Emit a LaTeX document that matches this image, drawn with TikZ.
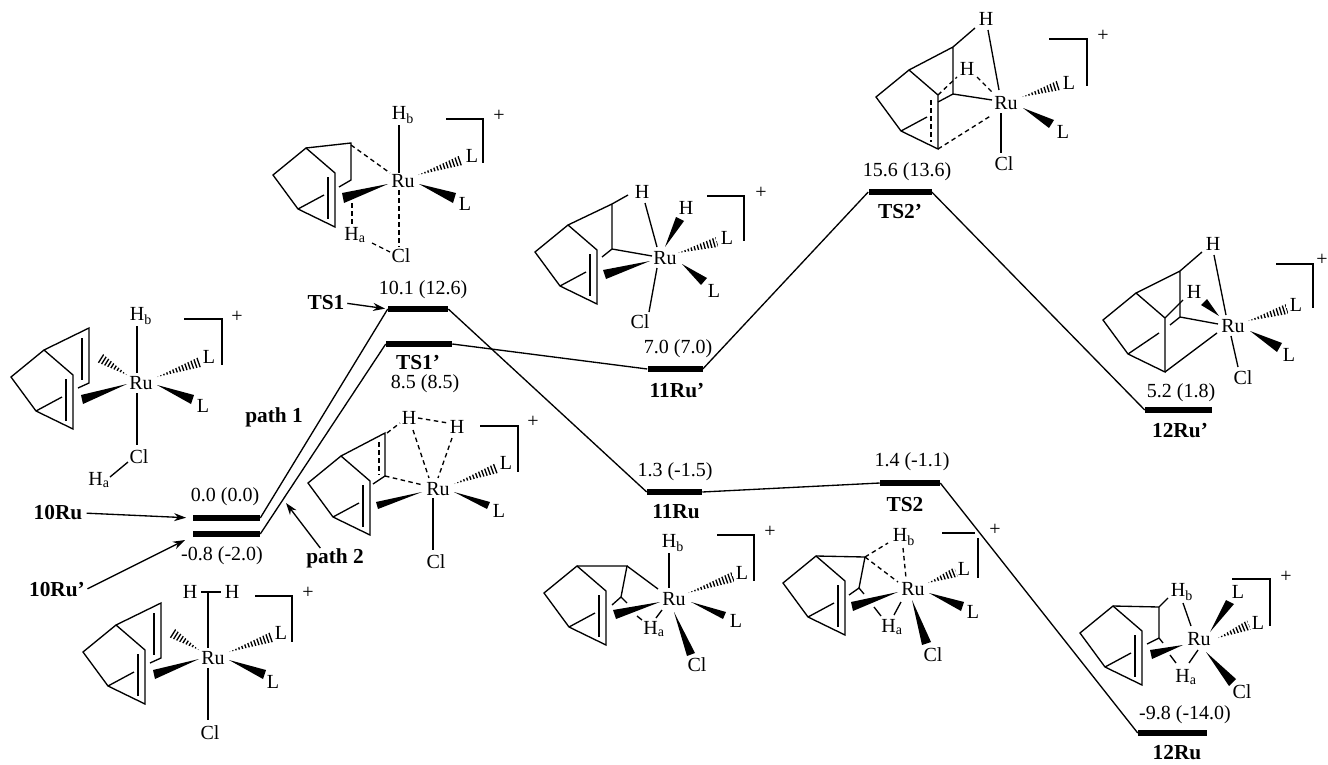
\documentclass[tikz,border=0pt]{standalone}
\usepackage{fontspec}
\setmainfont{Liberation Serif}
\usetikzlibrary{calc,arrows.meta}
\newcommand{\wedgebond}[3]{\fill #1 -- #2 -- #3 -- cycle;}
\newcommand{\hashbond}[2]{%
  \begin{scope}
    \clip #1 -- ($#2!3.8pt!90:#1$) -- ($#2!3.8pt!-90:#1$) -- cycle;
    \draw[hashstroke] #1 -- #2;
  \end{scope}}
\newcommand{\nbdcage}[1][(-79,14)]{%
  \draw[bond,line join=miter] (-97,-33) -- (-130,-6) -- (-105,28) -- (-68,46) -- (-68,-8) -- cycle;
  \draw[bond] (-105,28) -- #1;}
\newcommand{\nbdinner}{\draw[bond] (-75,-4) -- (-75,38);}
\newcommand{\rubracket}[3]{\draw[bond,line join=miter] #1 -- #2 -- #3;}
\begin{document}
\begin{tikzpicture}[x=0.75pt,y=-0.75pt,
  bond/.style={line width=1pt},
  dbond/.style={line width=1pt,dash pattern=on 3.4pt off 2.6pt},
  hashstroke/.style={line width=9pt,dash pattern=on 1pt off 1.5pt},
  atom/.style={inner sep=0pt,font=\fontsize{15}{17}\selectfont},
  val/.style={inner sep=0pt,font=\fontsize{15}{17}\selectfont},
  lab/.style={inner sep=0pt,font=\fontsize{16}{18}\selectfont\bfseries},
  level/.style={fill=black,inner sep=0pt,minimum height=5pt,minimum width=#1*0.75pt},
  path/.style={line width=1pt},
  point/.style={line width=1pt,-{Stealth[length=9pt,width=6pt]}}]
  \useasboundingbox (0,0) rectangle (1328,764);

  \node[level=67] (lv10) at (226.5,518) {};
  \node[level=67] (lv10p) at (226.5,534) {};
  \node[level=60] (lvTSa) at (418,309) {};
  \node[level=66] (lvTSap) at (419,344) {};
  \node[level=55] (lv11p) at (675,369) {};
  \node[level=55] (lv11) at (674.5,492) {};
  \node[level=60] (lvTSb) at (910,483) {};
  \node[level=63] (lvTSbp) at (900,192) {};
  \node[level=67] (lv12p) at (1178.5,410) {};
  \node[level=69] (lv12) at (1172.5,733) {};

  \node[val] (v10) at (225,497) {0.0 (0.0)};
  \node[val] (v10p) at (222,556) {-0.8 (-2.0)};
  \node[val] (vTSa) at (423,290) {10.1 (12.6)};
  \node[val] (vTSap) at (425,384) {8.5 (8.5)};
  \node[val] (v11p) at (678,349) {7.0 (7.0)};
  \node[val] (v11) at (675,472) {1.3 (-1.5)};
  \node[val] (vTSb) at (912,462) {1.4 (-1.1)};
  \node[val] (vTSbp) at (907,172) {15.6 (13.6)};
  \node[val] (v12p) at (1181,393) {5.2 (1.8)};
  \node[val] (v12) at (1185,715) {-9.8 (-14.0)};

  \node[lab] (lb10) at (58,513) {10Ru};
  \node[lab] (lb10p) at (57,590) {10Ru'};
  \node[lab] (lbTSa) at (326,303) {TS1};
  \node[lab] (lbTSap) at (418,363) {TS1'};
  \node[lab] (lb11p) at (677,391) {11Ru'};
  \node[lab] (lb11) at (676,512) {11Ru};
  \node[lab] (lbTSb) at (905,505) {TS2};
  \node[lab] (lbTSbp) at (900,212) {TS2'};
  \node[lab] (lb12p) at (1180,431) {12Ru'};
  \node[lab] (lb12) at (1177,753) {12Ru};
  \node[lab] (patha) at (274,417) {path 1};
  \node[lab] (pathb) at (335,558) {path 2};

  \draw[path] (lv10.east) -- (lvTSa.west);
  \draw[path] (lv10p.east) -- (lvTSap.west);
  \draw[path] (lvTSa.east) -- (lv11.west);
  \draw[path] (lvTSap.east) -- (lv11p.west);
  \draw[path] (lv11p.east) -- (lvTSbp.west);
  \draw[path] (lvTSbp.east) -- (lv12p.west);
  \draw[path] (lv11.east) -- (lvTSb.west);
  \draw[path] (lvTSb.east) -- (lv12.west);

  \coordinate (tip10p) at (185,540);
  \coordinate (tipb) at (286,503);
  \draw[point,shorten <=3pt,shorten >=5pt] (lb10.east) -- (lv10.west);
  \draw[point,shorten <=2pt] (lb10p.east) -- (tip10p);
  \draw[point,shorten <=2pt,shorten >=2pt] (lbTSa.east) -- (lvTSa.west);
  \draw[point] ([xshift=-11pt]pathb.north) -- (tipb);

  \begin{scope}[shift={(141,383)}]
    \nbdcage \nbdinner
    \draw[bond,line join=miter] (-97,-33) -- (-52,-55) -- (-52,0) -- (-63,5);
    \draw[bond] (-59,-45) -- (-59,-3);
    \node[atom] (ruA) at (0,0) {Ru};
    \node[atom] (hbA) at (0,-67) {H\textsubscript{b}};
    \node[atom] (clA) at (-2,74) {Cl};
    \node[atom] (haA) at (-42,97) {H\textsubscript{a}};
    \node[atom] (laA) at (68,-26) {L};
    \node[atom] (lbA) at (62,23) {L};
    \node[atom] (plusA) at (96,-66) {+};
    \draw[bond] (-4,-57) -- (-4,-10);
    \draw[bond] (-4,10) -- (-4,62);
    \draw[bond] (-31,94) -- (-13,79);
    \wedgebond{(-14,1)}{(-60,12)}{(-58,21)}
    \wedgebond{(16,2)}{(53,12)}{(50,21)}
    \hashbond{(16,-6)}{(59,-21)}
    \hashbond{(-14,-8)}{(-41,-25)}
    \rubracket{(43,-64)}{(81,-64)}{(81,-18)}
  \end{scope}

  \begin{scope}[shift={(213,658)}]
    \nbdcage \nbdinner
    \draw[bond,line join=miter] (-97,-33) -- (-52,-55) -- (-52,0) -- (-63,5);
    \draw[bond] (-59,-45) -- (-59,-3);
    \node[atom] (ruB) at (0,0) {Ru};
    \node[atom] (haB) at (-23,-66) {H};
    \node[atom] (hbB) at (19,-66) {H};
    \node[atom] (clB) at (-3,75) {Cl};
    \node[atom] (laB) at (68,-25) {L};
    \node[atom] (lbB) at (60,24) {L};
    \node[atom] (plusB) at (95,-65) {+};
    \draw[bond] (-12,-66) -- (8,-66);
    \draw[bond] (-5,-66) -- (-5,-10);
    \draw[bond] (-5,10) -- (-5,62);
    \wedgebond{(-14,1)}{(-60,12)}{(-58,21)}
    \wedgebond{(16,2)}{(53,12)}{(50,21)}
    \hashbond{(16,-6)}{(59,-21)}
    \hashbond{(-14,-8)}{(-41,-25)}
    \rubracket{(42,-62)}{(79,-62)}{(79,-16)}
  \end{scope}

  \begin{scope}[shift={(403,181)}]
    \nbdcage \nbdinner
    \draw[bond,line join=miter] (-97,-33) -- (-52,-38) -- (-52,-1) -- (-64,6);
    \node[atom] (ruC) at (0,0) {Ru};
    \node[atom] (hbC) at (0,-66) {H\textsubscript{b}};
    \node[atom] (haC) at (-48,54) {H\textsubscript{a}};
    \node[atom] (clC) at (-2,75) {Cl};
    \node[atom] (laC) at (69,-25) {L};
    \node[atom] (lbC) at (62,23) {L};
    \node[atom] (plusC) at (96,-65) {+};
    \draw[bond] (-4,-56) -- (-4,-8);
    \draw[dbond] (-52,-36) -- (-13,-8);
    \draw[dbond] (-51,22) -- (-51,44);
    \draw[dbond] (-4,9) -- (-4,66);
    \draw[dbond] (-31,62) -- (-13,71);
    \wedgebond{(-15,3)}{(-61,12)}{(-59,22)}
    \wedgebond{(16,3)}{(53,12)}{(50,22)}
    \hashbond{(15,-6)}{(59,-21)}
    \rubracket{(43,-62)}{(80,-62)}{(80,-18)}
  \end{scope}

  \begin{scope}[shift={(438,489)}]
    \nbdcage \nbdinner
    \draw[bond,line join=miter] (-97,-33) -- (-53,-56) -- (-53,-13) -- (-65,-5);
    \draw[dbond] (-59,-47) -- (-59,-14);
    \node[atom] (ruD) at (0,0) {Ru};
    \node[atom] (haD) at (-29,-71) {H};
    \node[atom] (hbD) at (19,-62) {H};
    \node[atom] (clD) at (-2,73) {Cl};
    \node[atom] (laD) at (68,-26) {L};
    \node[atom] (lbD) at (61,22) {L};
    \node[atom] (plusD) at (95,-67) {+};
    \draw[dbond] (-53,-13) -- (-15,-4);
    \draw[dbond] (-51,-56) -- (-38,-66);
    \draw[dbond] (-20,-71) -- (10,-66);
    \draw[dbond] (-25,-59) -- (-9,-11);
    \draw[dbond] (14,-51) -- (0,-11);
    \draw[bond] (-5,9) -- (-5,61);
    \wedgebond{(-16,3)}{(-62,13)}{(-60,20)}
    \wedgebond{(16,3)}{(52,13)}{(49,20)}
    \hashbond{(16,-5)}{(59,-21)}
    \rubracket{(42,-63)}{(80,-63)}{(80,-17)}
  \end{scope}

  \begin{scope}[shift={(665,258)}]
    \nbdcage \nbdinner
    \draw[bond,line join=miter] (-97,-33) -- (-53,-54) -- (-53,-9) -- (-63,-1);
    \node[atom] (ruE) at (0,0) {Ru};
    \node[atom] (haE) at (-23,-66) {H};
    \node[atom] (hbE) at (21,-50) {H};
    \node[atom] (clE) at (-25,64) {Cl};
    \node[atom] (laE) at (62,-20) {L};
    \node[atom] (lbE) at (49,33) {L};
    \node[atom] (plusE) at (96,-65) {+};
    \draw[bond] (-53,-9) -- (-13,-2);
    \draw[bond] (-53,-54) -- (-37,-63);
    \draw[bond] (-20,-55) -- (-8,-11);
    \draw[bond] (-8,10) -- (-16,54);
    \wedgebond{(0,-11)}{(11,-41)}{(19,-37)}
    \wedgebond{(-15,3)}{(-62,12)}{(-59,21)}
    \wedgebond{(17,6)}{(42,20)}{(36,27)}
    \hashbond{(13,-5)}{(52,-16)}
    \rubracket{(42,-62)}{(79,-62)}{(79,-17)}
  \end{scope}

  \begin{scope}[shift={(1006,103)}]
    \nbdcage
    \draw[dbond] (-75,-3) -- (-75,39);
    \draw[bond,line join=miter] (-97,-33) -- (-53,-56) -- (-53,-9) -- (-68,-1);
    \node[atom] (ruF) at (0,0) {Ru};
    \node[atom] (haF) at (-20,-84) {H};
    \node[atom] (hbF) at (-39,-34) {H};
    \node[atom] (clF) at (-2,61) {Cl};
    \node[atom] (laF) at (63,-20) {L};
    \node[atom] (lbF) at (57,29) {L};
    \node[atom] (plusF) at (97,-67) {+};
    \draw[bond] (-53,-9) -- (-14,-3);
    \draw[bond] (-53,-56) -- (-31,-75);
    \draw[bond] (-18,-73) -- (-7,-13);
    \draw[dbond] (-68,-8) -- (-49,-26);
    \draw[dbond] (-29,-26) -- (-13,-10);
    \draw[dbond] (-68,46) -- (-14,12);
    \draw[bond] (-5,10) -- (-5,50);
    \wedgebond{(17,5)}{(48,17)}{(43,25)}
    \hashbond{(16,-6)}{(54,-18)}
    \rubracket{(43,-64)}{(81,-64)}{(81,-17)}
  \end{scope}

  \begin{scope}[shift={(1233,326)}]
    \nbdcage[(-74,7)]
    \draw[bond,line join=miter] (-97,-33) -- (-53,-55) -- (-53,-9) -- (-63,-1);
    \node[atom] (ruG) at (0,0) {Ru};
    \node[atom] (haG) at (-20,-82) {H};
    \node[atom] (hbG) at (-39,-34) {H};
    \node[atom] (clG) at (10,52) {Cl};
    \node[atom] (laG) at (63,-21) {L};
    \node[atom] (lbG) at (56,29) {L};
    \node[atom] (plusG) at (89,-66) {+};
    \draw[bond] (-53,-9) -- (-15,-2);
    \draw[bond] (-53,-55) -- (-31,-74);
    \draw[bond] (-19,-71) -- (-7,-11);
    \draw[bond] (-68,-8) -- (-50,-26);
    \draw[bond] (-68,46) -- (-16,7);
    \draw[bond] (-2,10) -- (5,41);
    \wedgebond{(-14,-10)}{(-26,-27)}{(-32,-21)}
    \wedgebond{(17,5)}{(49,17)}{(44,26)}
    \hashbond{(15,-5)}{(54,-17)}
    \rubracket{(43,-62)}{(80,-62)}{(80,-18)}
  \end{scope}

  \begin{scope}[shift={(674,599)}]
    \nbdcage \nbdinner
    \draw[bond,line join=miter] (-97,-33) -- (-47,-33) -- (-53,-2) -- (-62,6);
    \draw[bond] (-53,-2) -- (-47,4);
    \node[atom] (ruH) at (0,0) {Ru};
    \node[atom] (hbH) at (-1,-56) {H\textsubscript{b}};
    \node[atom] (haH) at (-20,30) {H\textsubscript{a}};
    \node[atom] (clH) at (23,66) {Cl};
    \node[atom] (laH) at (68,-26) {L};
    \node[atom] (lbH) at (62,22) {L};
    \node[atom] (plusH) at (96,-67) {+};
    \draw[bond] (-47,-33) -- (-16,-10);
    \draw[bond] (-5,-46) -- (-5,-11);
    \draw[bond] (-37,17) -- (-32,21);
    \draw[bond] (-12,11) -- (-18,19);
    \wedgebond{(-14,3)}{(-61,11)}{(-58,20)}
    \wedgebond{(17,3)}{(52,13)}{(49,20)}
    \wedgebond{(0,13)}{(13,57)}{(21,54)}
    \hashbond{(14,-6)}{(59,-22)}
    \rubracket{(43,-64)}{(80,-64)}{(80,-18)}
  \end{scope}

  \begin{scope}[shift={(913,589)}]
    \nbdcage \nbdinner
    \draw[bond,line join=miter] (-97,-33) -- (-48,-32) -- (-54,-1) -- (-64,6);
    \draw[bond] (-54,-1) -- (-49,5);
    \node[atom] (ruJ) at (0,0) {Ru};
    \node[atom] (hbJ) at (-9,-52) {H\textsubscript{b}};
    \node[atom] (haJ) at (-21,38) {H\textsubscript{a}};
    \node[atom] (clJ) at (20,66) {Cl};
    \node[atom] (laJ) at (51,-20) {L};
    \node[atom] (lbJ) at (60,23) {L};
    \node[atom] (plusJ) at (82,-59) {+};
    \draw[dbond] (-48,-32) -- (-15,-7);
    \draw[dbond] (-48,-32) -- (-25,-46);
    \draw[dbond] (-10,-41) -- (-7,-11);
    \draw[bond] (-39,18) -- (-32,27);
    \draw[bond] (-12,13) -- (-19,26);
    \wedgebond{(-15,3)}{(-62,13)}{(-60,22)}
    \wedgebond{(16,4)}{(51,13)}{(48,22)}
    \wedgebond{(-1,11)}{(9,56)}{(18,53)}
    \hashbond{(15,-6)}{(43,-17)}
    \draw[bond] (29,-56) -- (62,-56);
    \draw[bond] (65,-51) -- (65,-11);
  \end{scope}

  \begin{scope}[shift={(1210,639)}]
    \nbdcage \nbdinner
    \draw[bond,line join=miter] (-97,-33) -- (-51,-32) -- (-51,-1) -- (-63,5);
    \draw[bond] (-51,-1) -- (-47,4);
    \node[atom] (ruK) at (-11,0) {Ru};
    \node[atom] (hbK) at (-28,-47) {H\textsubscript{b}};
    \node[atom] (haK) at (-24,38) {H\textsubscript{a}};
    \node[atom] (clK) at (32,53) {Cl};
    \node[atom] (laK) at (28,-47) {L};
    \node[atom] (lbK) at (48,-16) {L};
    \node[atom] (plusK) at (76,-62) {+};
    \draw[bond] (-51,-32) -- (-42,-41);
    \draw[bond] (-27,-36) -- (-19,-13);
    \draw[bond] (-40,16) -- (-34,24);
    \draw[bond] (-12,11) -- (-21,24);
    \wedgebond{(-27,6)}{(-60,11)}{(-58,20)}
    \wedgebond{(0,-7)}{(16,-39)}{(24,-35)}
    \wedgebond{(-4,13)}{(26,40)}{(19,47)}
    \hashbond{(8,-1)}{(39,-14)}
    \rubracket{(22,-60)}{(60,-60)}{(60,-13)}
  \end{scope}
\end{tikzpicture}
\end{document}
